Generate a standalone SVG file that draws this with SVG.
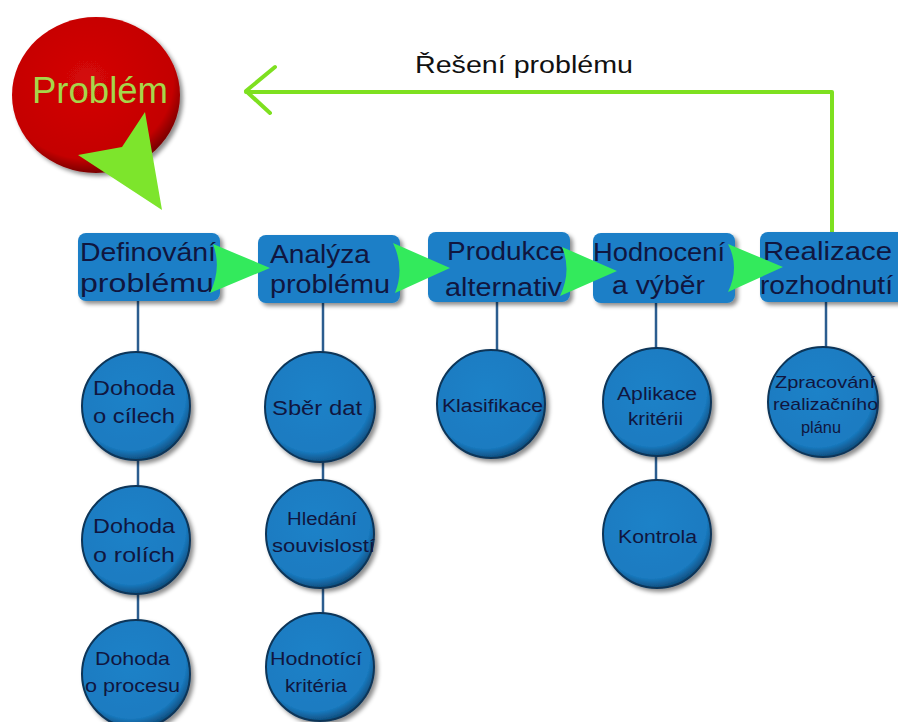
<svg xmlns="http://www.w3.org/2000/svg" width="898" height="722" viewBox="0 0 898 722">
<defs>
<filter id="sh" x="-20%" y="-20%" width="150%" height="150%">
<feDropShadow dx="3" dy="3" stdDeviation="2" flood-color="#000" flood-opacity="0.45"/>
</filter>
<radialGradient id="redg" cx="45%" cy="40%" r="60%">
<stop offset="0" stop-color="#d40808"/>
<stop offset="0.85" stop-color="#c40000"/>
<stop offset="1" stop-color="#7a0000"/>
</radialGradient>
<radialGradient id="blueg" cx="45%" cy="40%" r="60%">
<stop offset="0" stop-color="#1f82c8"/>
<stop offset="0.85" stop-color="#1a7bc1"/>
<stop offset="1" stop-color="#0f4f80"/>
</radialGradient>
</defs>
<style>
.rect{fill:#1b7fc7;filter:url(#sh)}
.circ{fill:url(#blueg);stroke:#0c3558;stroke-width:2;filter:url(#sh)}
.t{font-family:"Liberation Sans",Arial,sans-serif;fill:#10163f}
.big{font-size:25px}
.sm{font-size:20px}
.xs{font-size:18px}
.conn{stroke:#2b5d8f;stroke-width:2.5;fill:none}
.garrow{fill:#33ea5c}
.fb{stroke:#7ee020;stroke-width:4;fill:none;stroke-linecap:round;stroke-linejoin:round}
</style>

<g id="connectors">
<line class="conn" x1="138" y1="300" x2="138" y2="354"/>
<line class="conn" x1="138" y1="458" x2="138" y2="488"/>
<line class="conn" x1="138" y1="592" x2="138" y2="622"/>
<line class="conn" x1="323" y1="302" x2="323" y2="355"/>
<line class="conn" x1="323" y1="460" x2="323" y2="482"/>
<line class="conn" x1="323" y1="586" x2="323" y2="615"/>
<line class="conn" x1="497" y1="301" x2="497" y2="352"/>
<line class="conn" x1="656" y1="302" x2="656" y2="350"/>
<line class="conn" x1="656" y1="454" x2="656" y2="482"/>
<line class="conn" x1="826" y1="302" x2="826" y2="350"/>
<path class="fb" d="M832,233 V92 H246"/>
<path class="fb" d="M275,67 L246,91 L270,113"/>
</g>

<g id="problem">
<ellipse cx="96" cy="95" rx="84" ry="78" fill="url(#redg)" filter="url(#sh)"/>
<text x="32" y="103" font-family="Liberation Sans,Arial,sans-serif" font-size="36" fill="#a6d64a" textLength="136" lengthAdjust="spacingAndGlyphs">Problém</text>
<polygon points="145,112 162,210 78,155 122,147" fill="#7de52c"/>
</g>

<g id="label-reseni">
<text x="415" y="73" font-family="Liberation Sans,Arial,sans-serif" font-size="23" fill="#111" textLength="218" lengthAdjust="spacingAndGlyphs">Řešení problému</text>
</g>

<g id="n-definovani">
<rect class="rect" x="78" y="233" width="142" height="68" rx="8"/>
<text class="t big" x="80" y="261" textLength="136" lengthAdjust="spacingAndGlyphs">Definování</text>
<text class="t big" x="80" y="292" textLength="134" lengthAdjust="spacingAndGlyphs">problému</text>
</g>
<g id="n-analyza">
<rect class="rect" x="258" y="235" width="142" height="68" rx="8"/>
<text class="t big" x="270" y="263" textLength="100" lengthAdjust="spacingAndGlyphs">Analýza</text>
<text class="t big" x="270" y="293" textLength="120" lengthAdjust="spacingAndGlyphs">problému</text>
</g>
<g id="n-produkce">
<rect class="rect" x="428" y="232" width="142" height="70" rx="8"/>
<text class="t big" x="447" y="260" textLength="118" lengthAdjust="spacingAndGlyphs">Produkce</text>
<text class="t big" x="445" y="296" textLength="117" lengthAdjust="spacingAndGlyphs">alternativ</text>
</g>
<g id="n-hodnoceni">
<rect class="rect" x="593" y="233" width="142" height="70" rx="8"/>
<text class="t big" x="593" y="261" textLength="132" lengthAdjust="spacingAndGlyphs">Hodnocení</text>
<text class="t big" x="612" y="294" textLength="93" lengthAdjust="spacingAndGlyphs">a výběr</text>
</g>
<g id="n-realizace">
<rect class="rect" x="760" y="232" width="150" height="70" rx="8"/>
<text class="t big" x="763" y="260" textLength="129" lengthAdjust="spacingAndGlyphs">Realizace</text>
<text class="t big" x="760" y="294" textLength="133" lengthAdjust="spacingAndGlyphs">rozhodnutí</text>
</g>

<g id="arrows">
<path class="garrow" d="M213,244 L270,268 L210,293 Q222,268 213,244 Z"/>
<path class="garrow" d="M393,243 L450,268 L395,293 Q405,268 393,243 Z"/>
<path class="garrow" d="M562,247 L617,271 L560,296 Q572,271 562,247 Z"/>
<path class="garrow" d="M728,244 L783,267 L728,292 Q740,267 728,244 Z"/>
</g>

<g id="c-cile">
<circle class="circ" cx="136" cy="406" r="54"/>
<text class="t sm" x="93" y="395" textLength="82" lengthAdjust="spacingAndGlyphs">Dohoda</text>
<text class="t sm" x="93" y="423" textLength="82" lengthAdjust="spacingAndGlyphs">o cílech</text>
</g>
<g id="c-role">
<circle class="circ" cx="136" cy="540" r="54"/>
<text class="t sm" x="93" y="533" textLength="82" lengthAdjust="spacingAndGlyphs">Dohoda</text>
<text class="t sm" x="93" y="562" textLength="82" lengthAdjust="spacingAndGlyphs">o rolích</text>
</g>
<g id="c-proces">
<circle class="circ" cx="136" cy="674" r="54"/>
<text class="t xs" x="95" y="665" textLength="75" lengthAdjust="spacingAndGlyphs">Dohoda</text>
<text class="t xs" x="85" y="692" textLength="95" lengthAdjust="spacingAndGlyphs">o procesu</text>
</g>
<g id="c-sber">
<circle class="circ" cx="320" cy="407" r="55"/>
<text class="t sm" x="272" y="415" textLength="90" lengthAdjust="spacingAndGlyphs">Sběr dat</text>
</g>
<g id="c-hledani">
<circle class="circ" cx="320" cy="534" r="54"/>
<text class="t xs" x="287" y="525" textLength="70" lengthAdjust="spacingAndGlyphs">Hledání</text>
<text class="t xs" x="272" y="552" textLength="103" lengthAdjust="spacingAndGlyphs">souvislostí</text>
</g>
<g id="c-kriteria">
<circle class="circ" cx="320" cy="667" r="54"/>
<text class="t xs" x="270" y="665" textLength="92" lengthAdjust="spacingAndGlyphs">Hodnotící</text>
<text class="t xs" x="285" y="692" textLength="62" lengthAdjust="spacingAndGlyphs">kritéria</text>
</g>
<g id="c-klasifikace">
<circle class="circ" cx="491" cy="404" r="54"/>
<text class="t xs" x="442" y="412" textLength="101" lengthAdjust="spacingAndGlyphs">Klasifikace</text>
</g>
<g id="c-aplikace">
<circle class="circ" cx="657" cy="402" r="54"/>
<text class="t xs" x="617" y="400" textLength="80" lengthAdjust="spacingAndGlyphs">Aplikace</text>
<text class="t xs" x="628" y="425" textLength="55" lengthAdjust="spacingAndGlyphs">kritérii</text>
</g>
<g id="c-kontrola">
<circle class="circ" cx="657" cy="534" r="54"/>
<text class="t xs" x="618" y="543" textLength="79" lengthAdjust="spacingAndGlyphs">Kontrola</text>
</g>
<g id="c-zpracovani">
<circle class="circ" cx="823" cy="402" r="55"/>
<text class="t" font-size="17" x="775" y="388" textLength="100" lengthAdjust="spacingAndGlyphs">Zpracování</text>
<text class="t" font-size="17" x="773" y="410" textLength="105" lengthAdjust="spacingAndGlyphs">realizačního</text>
<text class="t" font-size="17" x="801" y="433" textLength="40" lengthAdjust="spacingAndGlyphs">plánu</text>
</g>
</svg>
